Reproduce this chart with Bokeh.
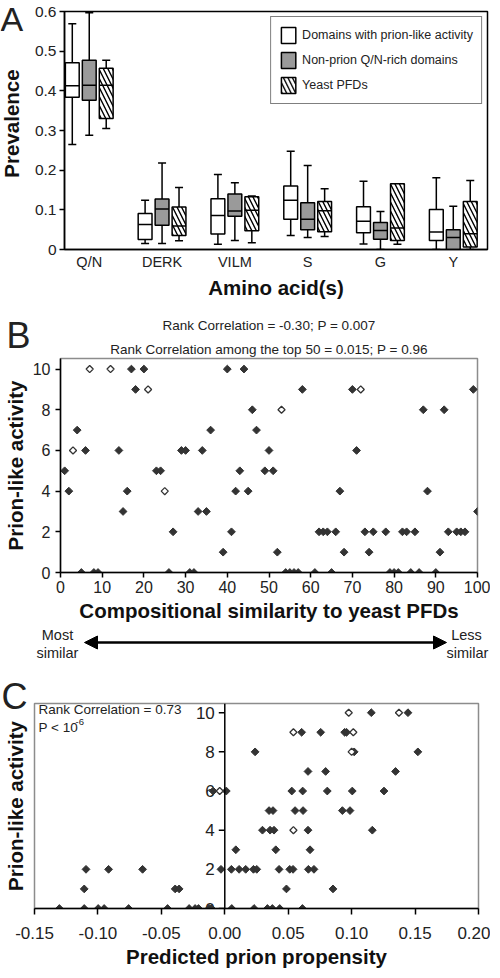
import numpy as np
from bokeh.plotting import figure
from bokeh.models import (Range1d, FixedTicker, Legend, LegendItem, Label, Title,
                          Arrow, NormalHead, PrintfTickFormatter, Span)
from bokeh.layouts import column, row
from bokeh.embed import file_html
from bokeh.resources import INLINE
from bokeh.core.properties import value

SANS = "Liberation Sans"

# ---------------- Panel A data ----------------
categories = ["Q/N", "DERK", "VILM", "S", "G", "Y"]
series_names = ["Domains with prion-like activity", "Non-prion Q/N-rich domains", "Yeast PFDs"]

prion_low = [0.265, 0.015, 0.013, 0.035, 0.014, 0.0]
prion_q1 = [0.384, 0.025, 0.039, 0.076, 0.042, 0.023]
prion_med = [0.413, 0.063, 0.086, 0.124, 0.071, 0.044]
prion_q3 = [0.471, 0.091, 0.128, 0.160, 0.108, 0.101]
prion_high = [0.569, 0.124, 0.189, 0.248, 0.172, 0.181]

nonprion_low = [0.288, 0.015, 0.023, 0.030, 0.0, 0.0]
nonprion_q1 = [0.376, 0.061, 0.084, 0.050, 0.026, 0.0]
nonprion_med = [0.414, 0.102, 0.097, 0.076, 0.048, 0.030]
nonprion_q3 = [0.477, 0.127, 0.140, 0.118, 0.068, 0.050]
nonprion_high = [0.597, 0.218, 0.168, 0.212, 0.096, 0.109]

pfd_low = [0.305, 0.022, 0.017, 0.033, 0.013, 0.0]
pfd_q1 = [0.330, 0.035, 0.047, 0.045, 0.023, 0.006]
pfd_med = [0.414, 0.059, 0.099, 0.098, 0.054, 0.040]
pfd_q3 = [0.457, 0.107, 0.133, 0.121, 0.166, 0.121]
pfd_high = [0.477, 0.156, 0.135, 0.153, 0.166, 0.174]

prevalence_ticks = [0, 0.1, 0.2, 0.3, 0.4, 0.5, 0.6]

# ---------------- Panel B data ----------------
b_similarity = [1, 2, 4, 5, 6, 8, 9, 14, 15, 16, 17, 18, 20, 23, 24, 26, 27, 29, 30, 31,
                32, 33, 34, 35, 36, 39, 40, 41, 42, 43, 44, 45, 46, 47, 49, 50, 51, 52, 54, 55,
                56, 57, 58, 61, 62, 63, 64, 65, 66, 67, 68, 70, 71, 73, 74, 75, 78, 79, 80, 81,
                82, 83, 84, 85, 86, 87, 88, 90, 91, 92, 93, 95, 96, 97, 99, 100]
b_activity = [5, 4, 7, 0, 6, 0, 0, 6, 3, 4, 10, 9, 10, 5, 5, 0, 2, 6, 6, 0,
              0, 3, 6, 3, 7, 1, 10, 2, 4, 5, 10, 4, 8, 7, 5, 6, 5, 1, 0, 0,
              0, 0, 9, 0, 2, 2, 2, 0, 2, 4, 1, 9, 6, 2, 1, 2, 2, 0, 0, 0,
              2, 2, 0, 2, 0, 8, 4, 0, 1, 8, 2, 2, 2, 2, 9, 3]
b_open_similarity = [3, 7, 12, 21, 25, 53, 72]
b_open_activity = [6, 10, 10, 9, 4, 8, 9]
b_similarity_ticks = list(range(0, 101, 10))
b_activity_ticks = [0, 2, 4, 6, 8, 10]

# ---------------- Panel C data ----------------
c_propensity = [-0.1304, -0.1108, -0.0998, -0.0951, -0.0758, -0.0451, -0.0281, -0.0234, -0.0207,
                -0.0124, -0.0105, 0.0055, 0.0231, 0.0336, 0.0375, 0.0433, 0.0612,
                -0.1108, -0.0391, -0.0360, 0.0486, 0.0853,
                -0.1094, -0.0916, -0.0648, -0.0030, 0.0052, 0.0113, 0.0165, 0.0226, 0.0252,
                0.0428, 0.0512, 0.0538, 0.0659, 0.0703,
                0.0087, 0.0402, 0.0672,
                0.0297, 0.0357, 0.0388, 0.0656, 0.1163,
                0.0349, 0.0380, 0.0554, 0.0617, 0.0927, 0.0987,
                -0.0092, 0.0012, 0.0528, 0.0614, 0.0808, 0.1005, 0.1255,
                0.0656, 0.0795, 0.1346,
                0.0239, 0.1020, 0.1522,
                0.0606, 0.0756, 0.0945, 0.0960,
                0.1155, 0.1444]
c_activity = [0] * 17 + [1] * 5 + [2] * 14 + [3] * 3 + [4] * 5 + [5] * 6 + [6] * 7 + \
             [7] * 3 + [8] * 3 + [9] * 4 + [10] * 2
c_open_propensity = [-0.0040, 0.0541, 0.1013, 0.1000, 0.0541, 0.0977, 0.1373]
c_open_activity = [6, 9, 9, 8, 4, 10, 10]
c_activity_ticks = [0, 2, 4, 6, 8, 10]
c_propensity_ticks = [-0.15, -0.1, -0.05, 0, 0.05, 0.1, 0.15, 0.2]

W = 490
LW = 30
DARK = "#333333"
TXT = "#222222"
GRAYLINE = "#8c8c8c"
BOLD_LABEL = "20.5px"


def base_fig(width, height, xr, yr, left, right, top, bottom):
    p = figure(width=width, height=height, x_range=xr, y_range=yr,
               output_backend="svg", toolbar_location=None,
               min_border_left=left, min_border_right=right,
               min_border_top=top, min_border_bottom=bottom)
    p.grid.visible = False
    p.background_fill_color = "white"
    p.border_fill_color = "white"
    for ax in [p.xaxis[0], p.yaxis[0]]:
        ax.axis_line_color = "black"
        ax.axis_line_width = 1.5
        ax.major_tick_line_color = "black"
        ax.major_tick_line_width = 1.5
        ax.major_tick_in = 0
        ax.major_tick_out = 5
        ax.minor_tick_line_color = None
        ax.major_label_text_color = TXT
        ax.major_label_text_font = SANS
        ax.axis_label_text_font = SANS
        ax.axis_label_text_font_style = "bold"
        ax.axis_label_text_color = "#111111"
        ax.axis_label_text_font_size = BOLD_LABEL
    return p


def blank_fig(width, height):
    p = figure(width=width, height=height, x_range=Range1d(0, width), y_range=Range1d(0, height),
               output_backend="svg", toolbar_location=None, min_border=0)
    p.axis.visible = False
    p.grid.visible = False
    p.outline_line_color = None
    p.background_fill_color = "white"
    p.border_fill_color = "white"
    return p


def letter_title(letter, offset, standoff, size="36px"):
    return Title(text=letter, align="left", offset=offset, standoff=standoff,
                 vertical_align="middle", text_font=SANS, text_font_size=size,
                 text_font_style="normal", text_color=TXT)


def plain_title(text, standoff):
    return Title(text=text, align="center", vertical_align="middle", standoff=standoff,
                 text_font=SANS, text_font_size="13.5px", text_font_style="normal",
                 text_color=TXT)


# ================= Panel A =================
HA = 306
pL = blank_fig(LW, HA)
pL.add_layout(Label(x=0, y=HA - 18, text="A", text_baseline="middle", text_font=SANS,
                    text_font_size="34px", text_color=TXT))
pL.add_layout(Label(x=11, y=HA - 123, text="Prevalence", angle=np.pi / 2, text_align="center",
                    text_baseline="middle", text_font=SANS, text_font_size=BOLD_LABEL,
                    text_font_style="bold", text_color="#111111"))

pA = base_fig(W - LW, HA, Range1d(-0.34, 5.47), Range1d(0, 0.6), 64 - LW, 3, 11, 57)
pA.outline_line_color = "black"
pA.outline_line_width = 1.5
pA.yaxis.ticker = FixedTicker(ticks=prevalence_ticks)
pA.yaxis.major_label_overrides = {0: "0"}
pA.yaxis.major_label_text_font_size = "15.5px"
pA.yaxis.major_label_standoff = 3
pA.xaxis.ticker = FixedTicker(ticks=list(range(len(categories))))
pA.xaxis.major_label_overrides = {i: c for i, c in enumerate(categories)}
pA.xaxis.major_tick_line_color = None
pA.xaxis.major_tick_out = 0
pA.xaxis.major_label_standoff = 4
pA.xaxis.major_label_text_font_size = "14.5px"
pA.xaxis.axis_label = "Amino acid(s)"
pA.xaxis.axis_label_standoff = 3

box_series = [
    (series_names[0], -0.233, prion_low, prion_q1, prion_med, prion_q3, prion_high,
     dict(fill_color="white")),
    (series_names[1], 0.0, nonprion_low, nonprion_q1, nonprion_med, nonprion_q3, nonprion_high,
     dict(fill_color="#9a9a9a")),
    (series_names[2], 0.233, pfd_low, pfd_q1, pfd_med, pfd_q3, pfd_high,
     dict(fill_color="white", hatch_pattern="\\", hatch_color="black",
          hatch_weight=1.4, hatch_scale=9)),
]
box_w = 0.19
cap_w = 0.11
legend_items = []
for name, off, lo, q1, med, q3, hi, style in box_series:
    xs = np.arange(len(categories)) + off
    pA.segment(xs, q3, xs, hi, line_color="black", line_width=1.5)
    pA.segment(xs, q1, xs, lo, line_color="black", line_width=1.5)
    pA.segment(xs - cap_w / 2, hi, xs + cap_w / 2, hi, line_color="black", line_width=1.5)
    pA.segment(xs - cap_w / 2, lo, xs + cap_w / 2, lo, line_color="black", line_width=1.5)
    r = pA.vbar(x=xs, width=box_w, top=q3, bottom=q1, line_color="black",
                line_width=1.5, **style)
    pA.segment(xs - box_w / 2, med, xs + box_w / 2, med, line_color="black", line_width=1.5)
    legend_items.append(LegendItem(label=name, renderers=[r]))

legA = Legend(items=legend_items, location="top_right", margin=5, padding=8,
              spacing=5, glyph_width=18, glyph_height=20, label_standoff=5,
              border_line_color="black", border_line_width=1.5,
              label_text_font=SANS, label_text_font_size="12.5px",
              label_text_color=TXT, background_fill_alpha=1.0)
pA.add_layout(legA)

# ================= Panel B =================
pB = base_fig(W, 320, Range1d(0, 100), Range1d(0, 10.52), 54, 13, 52, 54)
pB.outline_line_color = GRAYLINE
pB.outline_line_width = 1.5
pB.xaxis.ticker = FixedTicker(ticks=b_similarity_ticks)
pB.yaxis.ticker = FixedTicker(ticks=b_activity_ticks)
pB.xaxis.major_label_text_font_size = "16px"
pB.yaxis.major_label_text_font_size = "16px"
pB.xaxis.major_label_standoff = 3
pB.yaxis.major_label_standoff = 5
pB.xaxis.axis_label = "Compositional similarity to yeast PFDs"
pB.xaxis.axis_label_standoff = 3
pB.yaxis.axis_label = "Prion-like activity"
pB.yaxis.axis_label_standoff = 3

pB.scatter(b_similarity, b_activity, marker="square", angle=np.pi / 4, size=5.5,
           fill_color=DARK, line_color=DARK, line_width=1)
pB.scatter(b_open_similarity, b_open_activity, marker="square", angle=np.pi / 4, size=5,
           fill_color="white", line_color=DARK, line_width=1.3)

pB.add_layout(plain_title("Rank Correlation among the top 50 = 0.015; P = 0.96", 1), "above")
pB.add_layout(letter_title("B", -54, -33), "above")
pB.add_layout(plain_title("Rank Correlation = -0.30; P = 0.007", -7), "above")

# ================= Arrow strip =================
SH = 36
pS = blank_fig(W, SH)
pS.add_layout(Arrow(x_start=84, y_start=20, x_end=446, y_end=20, line_width=2.5,
                    start=NormalHead(size=13, fill_color="black", line_color="black"),
                    end=NormalHead(size=13, fill_color="black", line_color="black")))
for txt, xx, yy in [("Most", 57, 28), ("similar", 57, 10), ("Less", 466, 28), ("similar", 467, 10)]:
    pS.add_layout(Label(x=xx, y=yy, text=txt, text_align="center", text_baseline="middle",
                        text_font=SANS, text_font_size="14.5px", text_color=TXT))

# ================= Panel C =================
pC = base_fig(W, 308, Range1d(-0.15, 0.20), Range1d(0, 10.47), 33, 12, 41, 58)
pC.outline_line_color = GRAYLINE
pC.outline_line_width = 1.5
# left axis only carries the title; the visible y axis sits at x = 0
pC.yaxis.ticker = FixedTicker(ticks=c_activity_ticks)
pC.yaxis.major_label_overrides = {t: "" for t in c_activity_ticks}
pC.yaxis.axis_line_color = None
pC.yaxis.major_tick_line_color = None
pC.yaxis.major_tick_out = 0
pC.yaxis.major_label_standoff = 0
pC.yaxis.axis_label = "Prion-like activity"
pC.yaxis.axis_label_standoff = 8
pC.xaxis.ticker = FixedTicker(ticks=c_propensity_ticks)
pC.xaxis.formatter = PrintfTickFormatter(format="%.2f")
pC.xaxis.major_label_text_font_size = "17px"
pC.xaxis.major_tick_out = 6
pC.xaxis.major_label_standoff = 12
pC.xaxis.axis_label = "Predicted prion propensity"
pC.xaxis.axis_label_standoff = 3
pC.add_layout(letter_title("C", -33, -29), "above")

pC.add_layout(Span(location=0, dimension="height", line_color="black", line_width=1.5))
pC.ray(x=[0] * len(c_activity_ticks), y=c_activity_ticks, length=6, length_units="screen",
       angle=np.pi, line_color="black", line_width=1.5)
pC.text(x=[0] * len(c_activity_ticks), y=c_activity_ticks,
        text=[str(t) for t in c_activity_ticks], x_offset=-10,
        text_align="right", text_baseline="middle", text_font=value(SANS),
        text_font_size="17px", text_color=TXT)

pC.scatter(c_propensity, c_activity, marker="square", angle=np.pi / 4, size=5.5,
           fill_color=DARK, line_color=DARK, line_width=1)
pC.scatter(c_open_propensity, c_open_activity, marker="square", angle=np.pi / 4, size=5,
           fill_color="white", line_color=DARK, line_width=1.3)

frameC_h = 308 - 41 - 58
for txt, xx, yy, sz in [("Rank Correlation = 0.73", 4, frameC_h - 10, "13.5px"),
                        ("P < 10", 4, frameC_h - 28, "13.5px"),
                        ("-6", 41, frameC_h - 22, "9.5px")]:
    pC.add_layout(Label(x=xx, y=yy, x_units="screen", y_units="screen", text=txt,
                        text_baseline="middle", text_font=SANS, text_font_size=sz,
                        text_color=TXT))

layout = column(row(column(pL), column(pA)), row(pB), row(pS), row(pC))
open("out.html", "w").write(file_html(layout, INLINE))
